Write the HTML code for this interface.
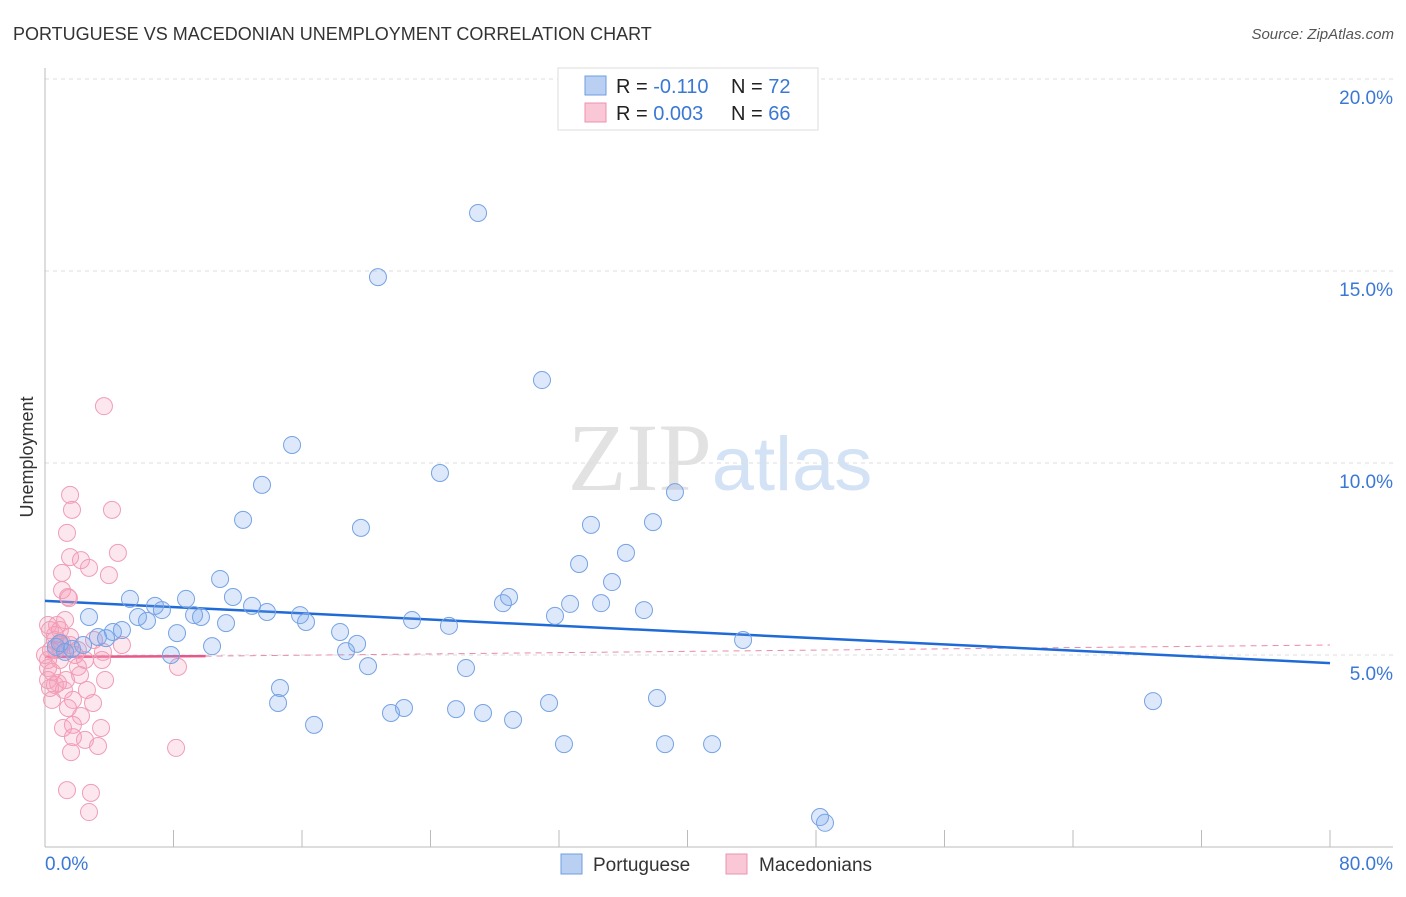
<!DOCTYPE html>
<html><head><meta charset="utf-8"><style>
body{margin:0;background:#fff;font-family:"Liberation Sans",sans-serif;}
</style></head><body>
<svg id="chart" width="1406" height="892" viewBox="0 0 1406 892" xmlns="http://www.w3.org/2000/svg" font-family="Liberation Sans, sans-serif">
<text x="13" y="40" font-size="18" fill="#333">PORTUGUESE VS MACEDONIAN UNEMPLOYMENT CORRELATION CHART</text>
<text x="1394" y="39" font-size="15" fill="#555" text-anchor="end" font-style="italic">Source: ZipAtlas.com</text>
<text x="720" y="490" font-size="96" text-anchor="middle" fill="#e2e2e2" font-family="Liberation Serif, serif">ZIP<tspan fill="#d3e2f5" font-family="Liberation Sans, sans-serif" font-size="76">atlas</tspan></text>
<g id="grid"></g>
<g id="axes"></g>
<g id="trends"></g>
<g id="points"></g>
<text transform="translate(33,457) rotate(-90)" font-size="18" fill="#333" text-anchor="middle">Unemployment</text>
<g>
<rect x="558" y="68" width="260" height="62" fill="#fff" stroke="#ddd"/>
<rect x="585" y="76" width="21" height="19" fill="#b9d0f3" stroke="#6e9ee0"/>
<rect x="585" y="103" width="21" height="19" fill="#f9c7d6" stroke="#ec93ad"/>
<text x="616" y="93" font-size="20" fill="#222">R = <tspan fill="#3a78d4">-0.110</tspan><tspan x="731">N = </tspan><tspan fill="#3a78d4">72</tspan></text>
<text x="616" y="120" font-size="20" fill="#222">R = <tspan fill="#3a78d4">0.003</tspan><tspan x="731">N = </tspan><tspan fill="#3a78d4">66</tspan></text>
</g>
<g>
<rect x="561" y="854" width="21" height="20" fill="#b9d0f3" stroke="#6e9ee0"/>
<text x="593" y="871" font-size="19" fill="#333">Portuguese</text>
<rect x="726" y="854" width="21" height="20" fill="#f9c7d6" stroke="#ec93ad"/>
<text x="759" y="871" font-size="19" fill="#333">Macedonians</text>
</g>
</svg>
<script>
const yTicks=[5,10,15,20];
const yTickLabels=["5.0%","10.0%","15.0%","20.0%"];
const xTickLabels=["0.0%","80.0%"];
const portX=[26.96,20.73,30.94,15.38,24.59,13.51,39.22,12.33,19.67,33.99,37.85,36.17,33.25,10.90,35.30,28.89,28.51,5.29,11.70,8.78,6.85,7.28,12.89,13.82,32.69,34.62,37.29,2.74,5.79,6.35,9.28,9.71,15.88,16.25,11.27,22.85,25.15,31.75,8.22,18.37,4.79,4.23,3.30,3.80,19.43,18.74,2.37,1.68,0.68,10.40,7.84,43.46,20.11,26.21,14.63,14.51,38.10,31.38,68.98,22.35,21.54,25.59,27.27,29.14,16.75,32.31,38.60,41.53,48.25,48.56,0.93,1.25];
const portY=[16.51,14.84,12.16,10.47,9.74,9.43,9.24,8.52,8.31,8.39,8.46,7.66,7.37,6.98,6.90,6.51,6.35,6.46,6.51,6.46,6.28,6.17,6.28,6.12,6.33,6.35,6.17,5.99,5.99,5.89,6.04,5.99,6.04,5.86,5.83,5.91,5.76,6.02,5.57,5.60,5.65,5.60,5.47,5.44,5.29,5.10,5.26,5.16,5.21,5.23,5.00,5.39,4.71,4.66,4.14,3.75,3.88,3.75,3.80,3.62,3.49,3.59,3.49,3.31,3.18,2.68,2.68,2.68,0.78,0.63,5.31,5.08];
const macX=[3.67,1.56,1.68,4.17,1.37,1.56,4.54,2.24,2.74,1.06,3.98,1.43,1.06,1.49,0.19,0.75,0.93,0.62,1.56,1.06,1.56,0.37,0.19,4.79,3.61,3.55,2.05,0.93,2.05,3.74,2.18,0.81,0.31,0.62,1.18,1.74,2.61,2.99,1.43,1.12,1.74,2.24,3.49,2.49,3.30,1.62,1.74,8.16,1.37,2.86,2.74,0.19,0.19,0.62,1.25,8.28,0.44,0.68,0,2.49,0.93,1.87,1.31,0.31,0.44,3.05];
const macY=[11.48,9.17,8.78,8.78,8.18,7.55,7.66,7.47,7.27,7.14,7.08,6.51,6.69,6.48,5.78,5.78,5.65,5.52,5.47,5.31,5.26,5.13,4.87,5.26,5.08,4.87,5.13,4.87,4.69,4.35,4.48,4.27,4.14,4.22,4.09,3.83,4.09,3.75,3.62,3.10,3.18,3.41,3.10,2.79,2.63,2.47,2.86,2.58,1.48,1.41,0.91,4.66,4.35,5.39,5.91,4.69,3.83,5.13,5.00,4.87,5.26,5.00,4.35,5.65,4.56,5.39];
const portTrend=[6.41,4.79];
const macTrend=[4.95,4.97,5.26];
const X0=45,X1=1330,Y0=847;
function sx(v){return X0+(v/80)*(X1-X0);}
function sy(v){return Y0-v*38.4;}
const NS="http://www.w3.org/2000/svg";
function mk(tag,attrs,parent){const e=document.createElementNS(NS,tag);for(const k in attrs)e.setAttribute(k,attrs[k]);parent.appendChild(e);return e;}
const grid=document.getElementById('grid');
yTicks.forEach((t,i)=>{
 const l=mk('line',{x1:45,x2:1393,y1:sy(t),y2:sy(t),stroke:'#ddd','stroke-dasharray':'4,4'},grid);
 
 
 const tx=mk('text',{x:1393,y:sy(t)+25,'font-size':19,fill:'#3a78d4','text-anchor':'end'},grid);
 tx.textContent=yTickLabels[i];
 
 
});
const axes=document.getElementById('axes');
const ya=mk('line',{x1:45,x2:45,y1:68,y2:847,stroke:'#bbb'},axes);


const xa=mk('line',{x1:45,x2:1393,y1:847,y2:847,stroke:'#bbb'},axes);


for(let i=0;i<=10;i++){
 const tk=mk('line',{x1:sx(i*8),x2:sx(i*8),y1:830,y2:847,stroke:'#bbb'},axes);
 
 
}
const xl0=mk('text',{x:45,y:870,'font-size':19,fill:'#3a78d4'},axes);
xl0.textContent=xTickLabels[0];


const xl1=mk('text',{x:1393,y:870,'font-size':19,fill:'#3a78d4','text-anchor':'end'},axes);
xl1.textContent=xTickLabels[1];


const pts=document.getElementById('points');
macX.forEach((x,i)=>{
 const c=mk('circle',{cx:sx(x),cy:sy(macY[i]),r:8.5,fill:'rgba(246,160,188,0.25)',stroke:'#f09db6','stroke-width':1},pts);
 
 
});
portX.forEach((x,i)=>{
 const c=mk('circle',{cx:sx(x),cy:sy(portY[i]),r:8.5,fill:'rgba(120,165,235,0.25)',stroke:'#76a3e4','stroke-width':1},pts);
 
 
});
const tr=document.getElementById('trends');
const md=mk('line',{x1:sx(10),x2:sx(80),y1:sy(macTrend[1]),y2:sy(macTrend[2]),stroke:'#eb8ba8','stroke-width':1,'stroke-dasharray':'6,5'},tr);


const mt=mk('line',{x1:sx(0),x2:sx(10),y1:sy(macTrend[0]),y2:sy(macTrend[1]),stroke:'#e8578a','stroke-width':2.5},tr);


const pt=mk('line',{x1:sx(0),x2:sx(80),y1:sy(portTrend[0]),y2:sy(portTrend[1]),stroke:'#1f6ad6','stroke-width':2.5},tr);


</script>
</body></html>
